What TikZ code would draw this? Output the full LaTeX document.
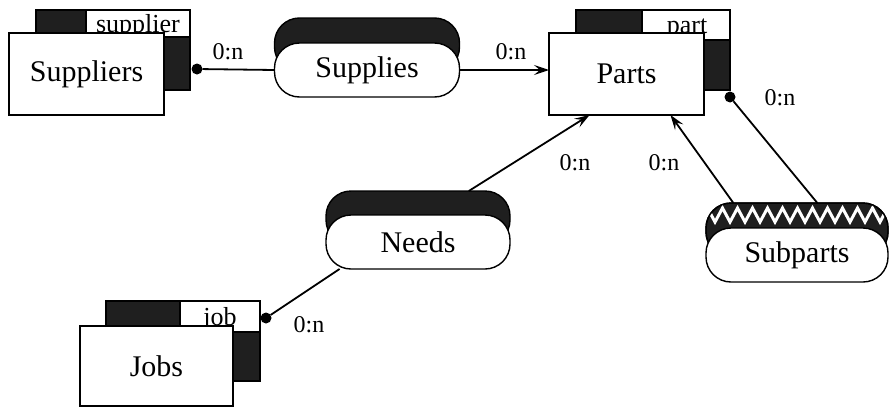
\documentclass[tikz,border=0pt]{standalone}
\usepackage{fontspec}
\setmainfont{Liberation Serif}
\usetikzlibrary{arrows.meta}
\definecolor{shade}{gray}{0.12}
\begin{document}
\begin{tikzpicture}[x=1pt,y=-1pt,
  every node/.style={inner sep=0pt, outer sep=0pt},
  bigtext/.style={font=\fontsize{30}{36}\selectfont},
  cardtext/.style={font=\fontsize{24}{28}\selectfont},
  tagtext/.style={font=\fontsize{26}{30}\selectfont, anchor=base},
  entity/.style={draw, fill=white, line width=1.4pt, minimum width=155pt, minimum height=82pt, bigtext},
  entityback/.style={draw, fill=shade, line width=1.2pt, minimum width=154pt, minimum height=80pt, anchor=north west},
  tagbox/.style={draw, fill=white, line width=1.2pt, anchor=north east},
  relation/.style={draw, fill=white, line width=1.4pt, rounded corners=25pt, minimum height=54pt, bigtext},
  relback/.style={draw, fill=shade, line width=1.4pt, rounded corners=25pt, minimum height=54pt},
  conn/.style={line width=1.8pt},
  arr/.style={conn, -{Stealth[length=15pt,width=10pt,inset=6pt]}},
  dot/.style={circle, fill=black, minimum size=11pt}
]
\useasboundingbox (0,0) rectangle (890,407);

% ---------- entity: Suppliers ----------
\node[entityback] (supB) at (36,10) {};
\node[tagbox, minimum width=104pt, minimum height=27pt] (supT) at (supB.north east) {};
\node[tagtext] at (138,32) {supplier};
\node[entity, anchor=north west] (suppliers) at (9,33) {Suppliers};
\node[dot] (supD) at (197,69) {};

% ---------- entity: Parts ----------
\node[entityback] (parB) at (576,10) {};
\node[tagbox, minimum width=88pt, minimum height=30pt] (parT) at (parB.north east) {};
\node[tagtext] at (687,33) {part};
\node[entity, anchor=north west] (parts) at (549,33) {Parts};
\node[dot] (parD) at (730,97) {};

% ---------- entity: Jobs ----------
\node[entityback] (jobB) at (106,301) {};
\node[tagbox, minimum width=80pt, minimum height=31pt] (jobT) at (jobB.north east) {};
\node[tagtext] at (220,325) {job};
\node[entity, anchor=north west, minimum width=153pt, minimum height=80pt] (jobs) at (80,326) {Jobs};
\node[dot] (jobD) at (266,318) {};

% ---------- relationship: Supplies ----------
\node[relback, minimum width=185pt] (suppliesB) at (367,45) {};
\node[relation, minimum width=185pt] (supplies) at (367,70) {Supplies};

% ---------- relationship: Needs ----------
\node[relback, minimum width=184pt] (needsB) at (418,218) {};
\node[relation, minimum width=184pt] (needs) at (418,242) {Needs};

% ---------- relationship: Subparts (recursive, zig-zag band) ----------
\node[relback, minimum width=182pt] (subB) at (797,230) {};
\begin{scope}
  \clip[rounded corners=25pt] (706,203) rectangle (888,257);
  \draw[white, line width=3pt, line join=miter]
    (700,222) \foreach \i in {0,...,13} { -- ({707.5+15*\i},208) -- ({715+15*\i},222) };
\end{scope}
\draw[line width=1.4pt, rounded corners=25pt] (706,203) rectangle (888,257);
\node[relation, minimum width=182pt] (subparts) at (797,255) {Subparts};

% ---------- connectors ----------
\draw[conn] (supD) -- (supplies.west);
\draw[arr] (supplies.east) -- (supplies.east -| parts.west);
\draw[arr] (needsB.28) -- (parts.228.3);
\draw[conn] (needs.199.1) -- (jobD);
\draw[arr] (subB.157.4) -- (parts.-43.3);
\draw[conn] (parD) -- (subB.53.5);

% ---------- cardinalities ----------
\node[cardtext] (c1) at (228,52) {0:n};
\node[cardtext] (c2) at (511,52) {0:n};
\node[cardtext] (c3) at (780,98) {0:n};
\node[cardtext] (c4) at (575,163) {0:n};
\node[cardtext] (c5) at (664,163) {0:n};
\node[cardtext] (c6) at (309,325) {0:n};
\end{tikzpicture}
\end{document}
